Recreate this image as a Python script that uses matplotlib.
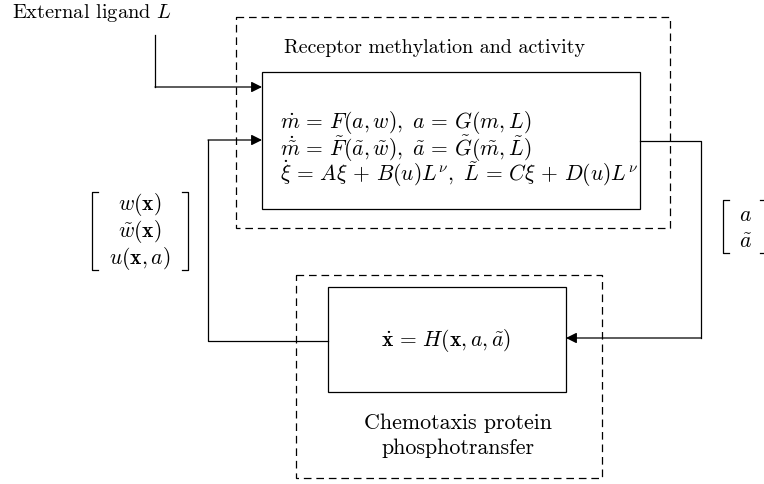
import matplotlib
matplotlib.use("Agg")
import matplotlib.pyplot as plt
from matplotlib.patches import Rectangle

plt.rcParams['mathtext.fontset'] = 'cm'
plt.rcParams['lines.scale_dashes'] = False
plt.rcParams['axes.unicode_minus'] = False

# diagram geometry (pixel units, y grows downward)
outer_top = [236, 17, 670, 228]      # x0, y0, x1, y1 dashed
inner_top = [262, 72, 640, 209]      # solid box
outer_bot = [296, 275, 602, 478]
inner_bot = [328, 287, 566, 392]

# text content
top_title = "Receptor methylation and activity"
top_eqs = [r"$\dot{m} \,=\, F(a,w),\ a \,=\, G(m,L)$",
           r"$\dot{\tilde{m}} \,=\, \tilde{F}(\tilde{a},\tilde{w}),\ \tilde{a} \,=\, \tilde{G}(\tilde{m},\tilde{L})$",
           r"$\dot{\xi} \,=\, A\xi \,+\, B(u)L^{\nu},\ \tilde{L} \,=\, C\xi \,+\, D(u)L^{\nu}$"]
bot_eq = r"$\dot{\mathbf{x}} \,=\, H(\mathbf{x},a,\tilde{a})$"
bot_caption = ["Chemotaxis protein", "phosphotransfer"]
left_vec = [r"$w(\mathbf{x})$", r"$\tilde{w}(\mathbf{x})$", r"$u(\mathbf{x},a)$"]
right_vec = [r"$a$", r"$\tilde{a}$"]
ligand = r"External ligand $L$"

fig = plt.figure(figsize=(7.64, 4.84), dpi=100)
ax = fig.add_axes([0, 0, 1, 1])
ax.set_xlim(0, 764)
ax.set_ylim(484, 0)
ax.axis('off')

lw = 0.9
fm = 15.5
serif = 'cmr10'


def box(b, dashed=False):
    ls = (0, (5.5, 3.5)) if dashed else '-'
    ax.add_patch(Rectangle((b[0], b[1]), b[2] - b[0], b[3] - b[1], fill=False,
                           lw=lw, ls=ls, edgecolor='black'))


box(outer_top, True)
box(inner_top)
box(outer_bot, True)
box(inner_bot)


def path_arrow(xs, ys):
    ax.plot(xs[:-1], ys[:-1], color='black', lw=lw)
    ax.annotate("", xy=(xs[-1], ys[-1]), xytext=(xs[-2], ys[-2]),
                arrowprops=dict(arrowstyle='-|>', color='black', lw=lw,
                                mutation_scale=16, shrinkA=0, shrinkB=0))


# external ligand input
path_arrow([155, 155, 262], [35, 87, 87])
# feedback from lower box into upper box
path_arrow([328, 208, 208, 262], [341, 341, 140, 140])
# output of upper box into lower box
path_arrow([640, 701, 701, 566], [141, 141, 338, 338])

ax.text(12, 13, ligand, fontsize=14.7, family=serif, va='center', ha='left')
ax.text(434, 48, top_title, fontsize=14.4, family=serif, va='center', ha='center')
for i, s in enumerate(top_eqs):
    ax.text(280, 123 + 25.5 * i, s, fontsize=fm, va='center', ha='left')
ax.text(446, 341, bot_eq, fontsize=fm, va='center', ha='center')
for i, s in enumerate(bot_caption):
    ax.text(458, 423 + 25 * i, s, fontsize=15.8, family=serif, va='center', ha='center')

# left vector with brackets
for i, s in enumerate(left_vec):
    ax.text(140, 205 + 26.5 * i, s, fontsize=fm, va='center', ha='center')
ax.plot([98, 92, 92, 98], [192, 192, 270, 270], color='black', lw=lw)
ax.plot([182, 188, 188, 182], [192, 192, 270, 270], color='black', lw=lw)

# right vector with brackets (clipped at the edge)
for i, s in enumerate(right_vec):
    ax.text(739, 215 + 27 * i, s, fontsize=fm, va='center', ha='left')
ax.plot([729, 723, 723, 729], [200, 200, 253, 253], color='black', lw=lw)
ax.plot([760, 766, 766, 760], [200, 200, 253, 253], color='black', lw=lw)

fig.savefig("out.png", dpi=100)
